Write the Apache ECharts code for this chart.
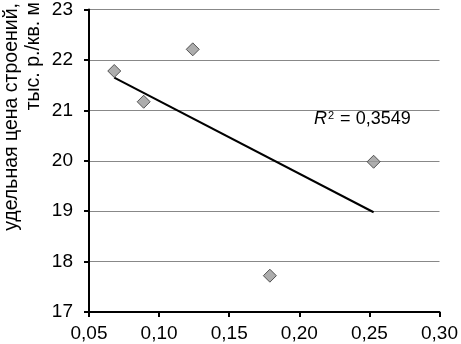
<!DOCTYPE html>
<html>
<head>
<meta charset="utf-8">
<script src="https://cdn.jsdelivr.net/npm/echarts@6/dist/echarts.min.js"></script>
<style>
html,body{margin:0;padding:0;background:#fff;}
#c{width:461px;height:344px;}
</style>
</head>
<body>
<div id="c"></div>
<script>
var xValues = [0.068, 0.089, 0.124, 0.179, 0.253];
var yValues = [21.78, 21.17, 22.21, 17.72, 19.98];
var yAxisLines = ['удельная цена строений,', 'тыс. р./кв. м'];
var r2Label = '0,3549';

var points = xValues.map(function(x, i){ return [x, yValues[i]]; });

// least-squares trend line
var n = xValues.length, mx = 0, my = 0;
for (var i = 0; i < n; i++) { mx += xValues[i]; my += yValues[i]; }
mx /= n; my /= n;
var sxy = 0, sxx = 0;
for (var i = 0; i < n; i++) { sxy += (xValues[i]-mx)*(yValues[i]-my); sxx += (xValues[i]-mx)*(xValues[i]-mx); }
var slope = sxy / sxx, intercept = my - slope * mx;
var xMin = Math.min.apply(null, xValues), xMax = Math.max.apply(null, xValues);
var trend = [[xMin, intercept + slope*xMin], [xMax, intercept + slope*xMax]];

var font = '"Liberation Sans", Arial, sans-serif';
var chart = echarts.init(document.getElementById('c'));
chart.setOption({
  animation: false,
  grid: { left: 89, right: 18, top: 8, bottom: 32 },
  xAxis: {
    type: 'value', min: 0.05, max: 0.30, interval: 0.05,
    axisLine: { show: true, lineStyle: { color: '#000', width: 2 } },
    axisTick: { show: true, length: 5, inside: false, lineStyle: { color: '#000', width: 2 } },
    axisLabel: { color: '#000', fontSize: 19, fontFamily: font, margin: 12,
      formatter: function(v){ return v.toFixed(2).replace('.', ','); } },
    splitLine: { show: false }
  },
  yAxis: {
    type: 'value', min: 17, max: 23, interval: 1,
    axisLine: { show: true, lineStyle: { color: '#000', width: 2 } },
    axisTick: { show: true, length: 5, inside: false, lineStyle: { color: '#000', width: 2 } },
    axisLabel: { color: '#000', fontSize: 19, fontFamily: font, margin: 16 },
    splitLine: { show: true, lineStyle: { color: '#888', width: 1 } }
  },
  graphic: [
    { type: 'text', x: 12, y: 3, rotation: Math.PI/2,
      style: { text: yAxisLines[0], font: '19.5px ' + font, fill: '#000', align: 'right', verticalAlign: 'middle' } },
    { type: 'text', x: 34, y: 2, rotation: Math.PI/2,
      style: { text: yAxisLines[1], font: '19.5px ' + font, fill: '#000', align: 'right', verticalAlign: 'middle' } },
    { type: 'text', x: 314, y: 110,
      style: { text: '{i|R}{s|2} = ' + r2Label, fill: '#000', font: '18px ' + font,
        rich: { i: { fontStyle: 'italic', fontSize: 18, fontFamily: font, fill: '#000' },
                s: { fontSize: 11, fontFamily: font, verticalAlign: 'top', fill: '#000', padding: [0, 1, 0, 1] } } } }
  ],
  series: [
    { type: 'line', data: trend, symbol: 'none', lineStyle: { color: '#000', width: 2 }, z: 2 },
    { type: 'scatter', data: points, symbol: 'diamond', symbolSize: 13,
      itemStyle: { color: '#999', borderColor: '#333', borderWidth: 1 }, z: 3 }
  ]
});
</script>
</body>
</html>
